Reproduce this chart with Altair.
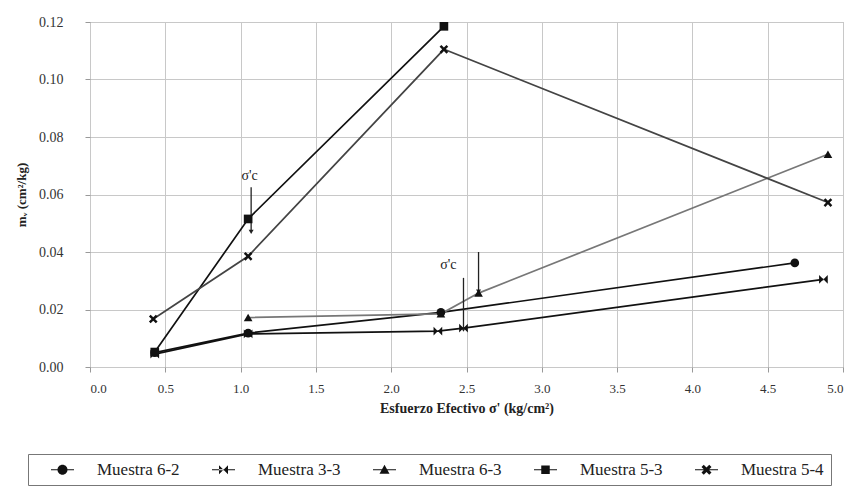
import altair as alt
import pandas as pd

# ---- data ----
series = ["Muestra 6-2", "Muestra 3-3", "Muestra 6-3", "Muestra 5-3", "Muestra 5-4"]
s62_x = [0.43, 1.05, 2.33, 4.68]
s62_y = [0.0050, 0.0118, 0.0190, 0.0362]
s33_x = [0.43, 1.05, 2.31, 2.48, 4.87]
s33_y = [0.0045, 0.0115, 0.0125, 0.0135, 0.0305]
s63_x = [1.05, 2.33, 2.58, 4.90]
s63_y = [0.0172, 0.0185, 0.0257, 0.0740]
s53_x = [0.43, 1.05, 2.35]
s53_y = [0.0052, 0.0515, 0.1185]
s54_x = [0.42, 1.05, 2.35, 4.90]
s54_y = [0.0167, 0.0385, 0.1105, 0.0572]

arrow_x = [1.07, 2.48, 2.58]
arrow_top = [0.0625, 0.0310, 0.0400]
arrow_bot = [0.0470, 0.0130, 0.0262]
label_x = [1.06, 2.38]
label_y = [0.0665, 0.0355]
label_txt = ["σ'c", "σ'c"]

x_ticks = [0.0, 0.5, 1.0, 1.5, 2.0, 2.5, 3.0, 3.5, 4.0, 4.5, 5.0]
y_ticks = [0.00, 0.02, 0.04, 0.06, 0.08, 0.10, 0.12]

rows = []
for name, xs, ys in zip(series, [s62_x, s33_x, s63_x, s53_x, s54_x],
                        [s62_y, s33_y, s63_y, s53_y, s54_y]):
    for i, (a, b) in enumerate(zip(xs, ys)):
        rows.append({"serie": name, "x": a, "y": b, "i": i})
df = pd.DataFrame(rows)

line_colors = ["#111111", "#111111", "#777777", "#111111", "#444444"]
shape_plot = [
    "circle",
    "M-1,-1L-1,1L1,-1L1,1Z",
    "triangle-up",
    "square",
    "M-1,-0.6L-0.6,-1L0,-0.4L0.6,-1L1,-0.6L0.4,0L1,0.6L0.6,1L0,0.4L-0.6,1L-1,0.6L-0.4,0Z",
]
seg = "M-4.6,-0.2H4.6V0.2H-4.6Z"
shape_leg = [
    seg + "M0,-2A2,2 0 1 1 0,2A2,2 0 1 1 0,-2Z",
    seg + "M-1.8,-1.8L-1.8,1.8L1.8,-1.8L1.8,1.8Z",
    seg + "M0,-2L2,1.6L-2,1.6Z",
    seg + "M-1.7,-1.7H1.7V1.7H-1.7Z",
    seg + "M-2,-1.1L-1.1,-2L0,-0.9L1.1,-2L2,-1.1L0.9,0L2,1.1L1.1,2L0,0.9L-1.1,2L-2,1.1L-0.9,0Z",
]

FONT = "Liberation Serif, Times New Roman, DejaVu Serif, serif"

xs = alt.X("x:Q", scale=alt.Scale(domain=[0, 5], nice=False),
           axis=alt.Axis(values=x_ticks, format=".1f", title="Esfuerzo Efectivo σ' (kg/cm²)",
                         grid=True, gridColor="#c8c8c8", domain=False, tickColor="#999",
                         labelFont=FONT, labelFontSize=13, labelColor="#333",
                         titleFont=FONT, titleFontSize=14, titleFontWeight="bold",
                         titleColor="#222", titlePadding=6, labelPadding=10))
ys = alt.Y("y:Q", scale=alt.Scale(domain=[0, 0.12], nice=False),
           axis=alt.Axis(values=y_ticks, format=".2f", title="mᵥ (cm²/kg)",
                         grid=True, gridColor="#c8c8c8", domain=False, tickColor="#999",
                         labelFont=FONT, labelFontSize=14, labelColor="#333",
                         titleFont=FONT, titleFontSize=13, titleFontWeight="bold",
                         titleColor="#222", titlePadding=10, labelPadding=22))

base = alt.Chart(df)

lines = base.mark_line(strokeWidth=1.7).encode(
    x=xs, y=ys, order="i:O",
    color=alt.Color("serie:N", scale=alt.Scale(domain=series, range=line_colors), legend=None),
)

points = base.mark_point(filled=True, size=75, color="#111111", opacity=1).encode(
    x="x:Q", y="y:Q",
    shape=alt.Shape("serie:N", scale=alt.Scale(domain=series, range=shape_plot), legend=None),
)

legdf = pd.DataFrame({"leyenda": series, "x": [0] * 5, "y": [0] * 5})
legend_layer = alt.Chart(legdf).mark_point(
    filled=True, size=25, color="#111111", opacity=0
).encode(
    x="x:Q", y="y:Q",
    shape=alt.Shape("leyenda:N", scale=alt.Scale(domain=series, range=shape_leg),
                    legend=alt.Legend(title=None, orient="none", direction="horizontal",
                                      columns=5, legendX=-62, legendY=432,
                                      symbolOpacity=1, symbolFillColor="#111111",
                                      symbolSize=25, symbolOffset=19,
                                      labelFont=FONT, labelFontSize=17, labelColor="#222",
                                      labelOffset=26, columnPadding=16,
                                      strokeColor="#777", padding=7, fillColor="white")),
)

arrows_df = pd.DataFrame({"x": arrow_x, "y": arrow_top, "y2": arrow_bot})
arrows = alt.Chart(arrows_df).mark_rule(color="#222", strokeWidth=1.3).encode(
    x="x:Q", y="y:Q", y2="y2:Q")
heads = alt.Chart(arrows_df).mark_point(shape="triangle-down", filled=True, size=25,
                                        color="#222", opacity=1).encode(x="x:Q", y="y2:Q")

labels_df = pd.DataFrame({"x": label_x, "y": label_y, "t": label_txt})
labels = alt.Chart(labels_df).mark_text(font=FONT, fontSize=14, color="#222").encode(
    x="x:Q", y="y:Q", text="t:N")

chart = alt.layer(lines, arrows, heads, points, labels, legend_layer).resolve_scale(
    shape="independent"
).properties(
    width=753, height=345,
    padding={"left": 82, "top": 14, "right": 8, "bottom": 123},
    autosize=alt.AutoSizeParams(type="none"),
).configure(font=FONT).configure_view(stroke="#aaaaaa", strokeWidth=1)

chart.save("out.html", embed_options={"renderer": "svg", "actions": False})
